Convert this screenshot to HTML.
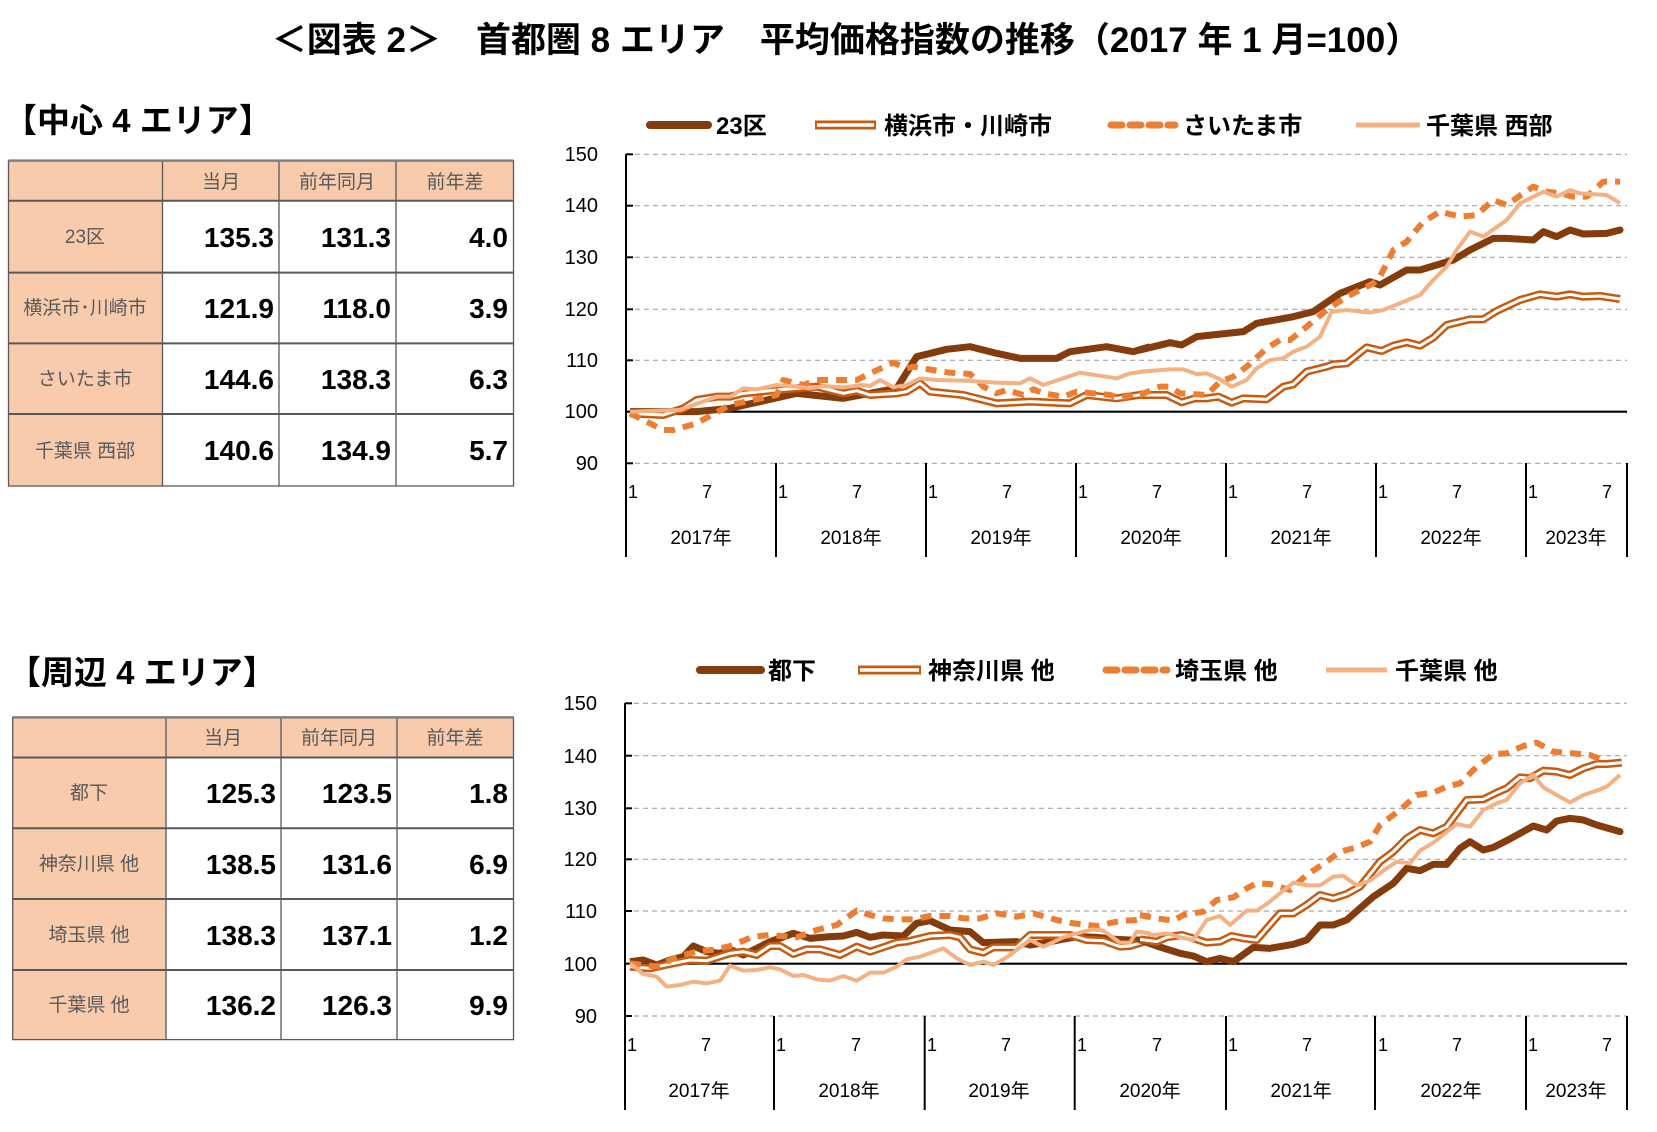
<!DOCTYPE html>
<html><head><meta charset="utf-8"><style>
html,body{margin:0;padding:0;background:#fff;}
svg{display:block;font-family:"Liberation Sans","Noto Sans CJK JP",sans-serif;}
.g{fill:#595959;font-size:19px;}
.n{font-size:28px;font-weight:bold;fill:#000;}
.yl{font-size:20px;fill:#000;}
.ml{font-size:18px;fill:#000;}
.yr{font-size:19px;fill:#000;}
.lg{font-size:24px;font-weight:bold;fill:#000;}
</style></head><body>
<svg width="1657" height="1132" viewBox="0 0 1657 1132" xmlns="http://www.w3.org/2000/svg">
<text x="846" y="52" text-anchor="middle" font-size="35" font-weight="bold">＜図表 2＞　首都圏 8 エリア　平均価格指数の推移（2017 年 1 月=100）</text>

<text x="4" y="132" font-size="33" font-weight="bold">【中心 4 エリア】</text>
<text x="8" y="684" font-size="33" font-weight="bold">【周辺 4 エリア】</text>

<!-- Table 1 -->
<g>
<rect x="8.5" y="160.6" width="154" height="325.4" fill="#F8CBAD"/>
<rect x="162.5" y="160.6" width="351" height="40" fill="#F8CBAD"/>
<g stroke="#595959" stroke-width="1.3" fill="none">
<rect x="8.5" y="160.6" width="505" height="325.4"/>
<line x1="162.5" y1="160.6" x2="162.5" y2="486"/>
<line x1="279" y1="160.6" x2="279" y2="486"/>
<line x1="396" y1="160.6" x2="396" y2="486"/>
<line x1="8.5" y1="200.7" x2="513.5" y2="200.7" stroke-width="2"/>
<line x1="8.5" y1="272.6" x2="513.5" y2="272.6" stroke-width="2"/>
<line x1="8.5" y1="343.4" x2="513.5" y2="343.4" stroke-width="2"/>
<line x1="8.5" y1="414" x2="513.5" y2="414" stroke-width="2"/>
</g>
<line x1="8.5" y1="160.6" x2="513.5" y2="160.6" stroke="#808080" stroke-width="2.5"/>
<text class="g" x="221" y="188" text-anchor="middle">当月</text>
<text class="g" x="337" y="188" text-anchor="middle">前年同月</text>
<text class="g" x="455" y="188" text-anchor="middle">前年差</text>
<text class="g" x="85" y="243" text-anchor="middle">23区</text>
<text class="g" x="85" y="314" text-anchor="middle">横浜市･川崎市</text>
<text class="g" x="85" y="385" text-anchor="middle">さいたま市</text>
<text class="g" x="85" y="457" text-anchor="middle">千葉県 西部</text>
<g class="n" text-anchor="end">
<text x="274" y="247">135.3</text><text x="391" y="247">131.3</text><text x="508" y="247">4.0</text>
<text x="274" y="318">121.9</text><text x="391" y="318">118.0</text><text x="508" y="318">3.9</text>
<text x="274" y="389">144.6</text><text x="391" y="389">138.3</text><text x="508" y="389">6.3</text>
<text x="274" y="460">140.6</text><text x="391" y="460">134.9</text><text x="508" y="460">5.7</text>
</g>
</g>

<!-- Table 2 -->
<g>
<rect x="12.7" y="717.4" width="153.3" height="322.2" fill="#F8CBAD"/>
<rect x="166" y="717.4" width="347.5" height="40" fill="#F8CBAD"/>
<g stroke="#595959" stroke-width="1.3" fill="none">
<rect x="12.7" y="717.4" width="500.8" height="322.2"/>
<line x1="166" y1="717.4" x2="166" y2="1039.6"/>
<line x1="281" y1="717.4" x2="281" y2="1039.6"/>
<line x1="397" y1="717.4" x2="397" y2="1039.6"/>
<line x1="12.7" y1="757.5" x2="513.5" y2="757.5" stroke-width="2"/>
<line x1="12.7" y1="828.3" x2="513.5" y2="828.3" stroke-width="2"/>
<line x1="12.7" y1="899" x2="513.5" y2="899" stroke-width="2"/>
<line x1="12.7" y1="970" x2="513.5" y2="970" stroke-width="2"/>
</g>
<line x1="12.7" y1="717.4" x2="513.5" y2="717.4" stroke="#808080" stroke-width="2.5"/>
<text class="g" x="223" y="744" text-anchor="middle">当月</text>
<text class="g" x="339" y="744" text-anchor="middle">前年同月</text>
<text class="g" x="455" y="744" text-anchor="middle">前年差</text>
<text class="g" x="89" y="799" text-anchor="middle">都下</text>
<text class="g" x="89" y="870" text-anchor="middle">神奈川県 他</text>
<text class="g" x="89" y="941" text-anchor="middle">埼玉県 他</text>
<text class="g" x="89" y="1011" text-anchor="middle">千葉県 他</text>
<g class="n" text-anchor="end">
<text x="276" y="803">125.3</text><text x="392" y="803">123.5</text><text x="508" y="803">1.8</text>
<text x="276" y="874">138.5</text><text x="392" y="874">131.6</text><text x="508" y="874">6.9</text>
<text x="276" y="945">138.3</text><text x="392" y="945">137.1</text><text x="508" y="945">1.2</text>
<text x="276" y="1015">136.2</text><text x="392" y="1015">126.3</text><text x="508" y="1015">9.9</text>
</g>
</g>

<!-- Legend 1 -->
<line x1="650" y1="125" x2="708" y2="125" stroke="#843C0C" stroke-width="8" stroke-linecap="round"/>
<text class="lg" x="716" y="134">23区</text>
<line x1="815" y1="125" x2="876" y2="125" stroke="#C55A11" stroke-width="9"/>
<line x1="817" y1="125" x2="874" y2="125" stroke="#fff" stroke-width="3.5"/>
<text class="lg" x="884" y="134">横浜市・川崎市</text>
<line x1="1111" y1="125" x2="1175" y2="125" stroke="#ED7D31" stroke-width="7" stroke-dasharray="11 8" stroke-linecap="round"/>
<text class="lg" x="1183" y="134">さいたま市</text>
<line x1="1356" y1="125" x2="1420" y2="125" stroke="#F4B183" stroke-width="5"/>
<text class="lg" x="1426" y="134">千葉県 西部</text>

<!-- Legend 2 -->
<line x1="700" y1="670" x2="761" y2="670" stroke="#843C0C" stroke-width="8" stroke-linecap="round"/>
<text class="lg" x="768" y="679">都下</text>
<line x1="858" y1="670" x2="921" y2="670" stroke="#C55A11" stroke-width="9"/>
<line x1="860" y1="670" x2="919" y2="670" stroke="#fff" stroke-width="3.5"/>
<text class="lg" x="928" y="679">神奈川県 他</text>
<line x1="1106" y1="670" x2="1167" y2="670" stroke="#ED7D31" stroke-width="7" stroke-dasharray="11 8" stroke-linecap="round"/>
<text class="lg" x="1175" y="679">埼玉県 他</text>
<line x1="1326" y1="670" x2="1387" y2="670" stroke="#F4B183" stroke-width="5"/>
<text class="lg" x="1395" y="679">千葉県 他</text>

<!-- Chart 1 axes -->
<g stroke="#a6a6a6" stroke-width="1.2" stroke-dasharray="5 4">
<line x1="626" y1="154.3" x2="1627" y2="154.3"/>
<line x1="626" y1="205.7" x2="1627" y2="205.7"/>
<line x1="626" y1="257.3" x2="1627" y2="257.3"/>
<line x1="626" y1="309.3" x2="1627" y2="309.3"/>
<line x1="626" y1="360.3" x2="1627" y2="360.3"/>
<line x1="626" y1="463.3" x2="1627" y2="463.3"/>
</g>
<g stroke="#000" stroke-width="2">
<line x1="626" y1="154" x2="626" y2="557"/>
<line x1="626" y1="154.3" x2="633" y2="154.3"/><line x1="626" y1="205.7" x2="633" y2="205.7"/>
<line x1="626" y1="257.3" x2="633" y2="257.3"/><line x1="626" y1="309.3" x2="633" y2="309.3"/>
<line x1="626" y1="360.3" x2="633" y2="360.3"/><line x1="626" y1="463.3" x2="633" y2="463.3"/>
<line x1="776" y1="463" x2="776" y2="557"/><line x1="926" y1="463" x2="926" y2="557"/>
<line x1="1076" y1="463" x2="1076" y2="557"/><line x1="1226" y1="463" x2="1226" y2="557"/>
<line x1="1376" y1="463" x2="1376" y2="557"/><line x1="1526" y1="463" x2="1526" y2="557"/>
<line x1="1627" y1="463" x2="1627" y2="557"/>
</g>
<line x1="626" y1="411.7" x2="1627" y2="411.7" stroke="#000" stroke-width="2.2"/>
<g class="yl" text-anchor="end">
<text x="598" y="161">150</text><text x="598" y="212">140</text><text x="598" y="264">130</text>
<text x="598" y="316">120</text><text x="598" y="367">110</text><text x="598" y="418">100</text><text x="598" y="470">90</text>
</g>
<g class="ml">
<text x="628" y="498">1</text><text x="702" y="498">7</text>
<text x="778" y="498">1</text><text x="852" y="498">7</text>
<text x="928" y="498">1</text><text x="1002" y="498">7</text>
<text x="1078" y="498">1</text><text x="1152" y="498">7</text>
<text x="1228" y="498">1</text><text x="1302" y="498">7</text>
<text x="1378" y="498">1</text><text x="1452" y="498">7</text>
<text x="1528" y="498">1</text><text x="1602" y="498">7</text>
</g>
<g class="yr" text-anchor="middle">
<text x="701" y="544">2017年</text><text x="851" y="544">2018年</text><text x="1001" y="544">2019年</text>
<text x="1151" y="544">2020年</text><text x="1301" y="544">2021年</text><text x="1451" y="544">2022年</text><text x="1576" y="544">2023年</text>
</g>

<!-- Chart 1 series -->
<g fill="none" stroke-linejoin="round">
<g transform="translate(630,150) scale(0.333333)">
<polyline vector-effect="non-scaling-stroke" stroke="#843C0C" stroke-width="7" points="0,785 200,785 300,775 500,730 640,745 800,715 860,620 950,598 1020,590 1100,610 1170,625 1280,625 1320,605 1430,590 1510,605 1560,590"/>
<polyline vector-effect="non-scaling-stroke" stroke="#C55A11" stroke-width="8" points="0,790 100,795 160,775 200,750 260,740 300,740 340,730 440,720 500,715 560,710 640,730 680,722 720,735 800,730 830,725 870,700 900,725 1000,735 1100,760 1200,755 1320,760 1370,735 1460,745 1560,730"/>
<polyline vector-effect="non-scaling-stroke" stroke="#fff" stroke-width="3" points="0,790 100,795 160,775 200,750 260,740 300,740 340,730 440,720 500,715 560,710 640,730 680,722 720,735 800,730 830,725 870,700 900,725 1000,735 1100,760 1200,755 1320,760 1370,735 1460,745 1560,730"/>
<polyline vector-effect="non-scaling-stroke" stroke="#ED7D31" stroke-width="6" stroke-dasharray="11 8" points="0,790 100,840 130,840 200,820 300,765 440,735 460,690 520,705 560,690 640,690 680,690 720,670 790,638 830,655 850,650 920,662 960,668 1020,672 1060,710 1100,730 1130,720 1180,735 1210,718 1240,730 1300,740 1340,725 1440,735 1470,745 1530,728"/>
<polyline vector-effect="non-scaling-stroke" stroke="#F4B183" stroke-width="4" points="0,785 150,780 260,740 300,740 340,715 380,718 440,705 500,710 540,715 580,708 640,712 700,705 720,708 750,690 790,712 830,705 870,685 920,690 1000,692 1100,698 1170,700 1200,685 1240,705 1350,668 1460,685 1500,670 1560,662"/>
</g>
<g transform="translate(1140,150) scale(0.333333)">
<polyline vector-effect="non-scaling-stroke" stroke="#843C0C" stroke-width="7" stroke-linecap="round" points="0,600 90,578 125,585 170,560 310,545 350,520 460,500 520,485 600,430 690,395 720,405 800,360 840,360 940,330 990,300 1060,265 1100,265 1180,270 1210,245 1250,260 1290,240 1330,252 1400,250 1440,240"/>
<polyline vector-effect="non-scaling-stroke" stroke="#C55A11" stroke-width="8" points="0,735 80,735 125,757 165,745 200,745 235,740 275,758 310,745 380,748 430,710 460,703 500,665 560,650 580,643 620,640 680,592 725,603 760,587 800,577 840,587 880,563 920,525 990,508 1030,508 1070,483 1140,450 1200,433 1250,440 1290,433 1330,440 1380,438 1440,447"/>
<polyline vector-effect="non-scaling-stroke" stroke="#fff" stroke-width="3" points="0,735 80,735 125,757 165,745 200,745 235,740 275,758 310,745 380,748 430,710 460,703 500,665 560,650 580,643 620,640 680,592 725,603 760,587 800,577 840,587 880,563 920,525 990,508 1030,508 1070,483 1140,450 1200,433 1250,440 1290,433 1330,440 1380,438 1440,447"/>
<polyline vector-effect="non-scaling-stroke" stroke="#ED7D31" stroke-width="6" stroke-dasharray="11 8" points="0,735 60,710 90,710 120,730 200,735 240,695 280,680 320,650 380,595 420,570 450,570 500,530 560,480 620,440 700,400 720,380 760,300 800,275 850,215 900,185 960,200 1010,195 1060,150 1100,165 1150,130 1180,110 1220,125 1260,130 1300,140 1340,140 1390,95 1440,95"/>
<polyline vector-effect="non-scaling-stroke" stroke="#F4B183" stroke-width="4" points="0,665 90,658 130,658 170,672 200,670 240,688 275,710 320,690 350,655 390,630 430,625 460,605 500,590 540,560 575,485 620,480 690,488 730,480 840,435 880,390 920,350 950,300 990,245 1030,260 1100,210 1140,160 1210,125 1250,140 1290,120 1320,130 1400,135 1440,160"/>
</g>
</g>

<!-- Chart 2 axes -->
<g stroke="#a6a6a6" stroke-width="1.2" stroke-dasharray="5 4">
<line x1="625" y1="703.3" x2="1627" y2="703.3"/>
<line x1="625" y1="755.7" x2="1627" y2="755.7"/>
<line x1="625" y1="808.3" x2="1627" y2="808.3"/>
<line x1="625" y1="859.3" x2="1627" y2="859.3"/>
<line x1="625" y1="911" x2="1627" y2="911"/>
<line x1="625" y1="1016" x2="1627" y2="1016"/>
</g>
<g stroke="#000" stroke-width="2">
<line x1="625" y1="703" x2="625" y2="1110"/>
<line x1="625" y1="703.3" x2="632" y2="703.3"/><line x1="625" y1="755.7" x2="632" y2="755.7"/>
<line x1="625" y1="808.3" x2="632" y2="808.3"/><line x1="625" y1="859.3" x2="632" y2="859.3"/>
<line x1="625" y1="911" x2="632" y2="911"/><line x1="625" y1="1016" x2="632" y2="1016"/>
<line x1="774" y1="1016" x2="774" y2="1110"/><line x1="924.7" y1="1016" x2="924.7" y2="1110"/>
<line x1="1074.7" y1="1016" x2="1074.7" y2="1110"/><line x1="1226" y1="1016" x2="1226" y2="1110"/>
<line x1="1375" y1="1016" x2="1375" y2="1110"/><line x1="1526" y1="1016" x2="1526" y2="1110"/>
<line x1="1627" y1="1016" x2="1627" y2="1110"/>
</g>
<line x1="625" y1="963.7" x2="1627" y2="963.7" stroke="#000" stroke-width="2.2"/>
<g class="yl" text-anchor="end">
<text x="597" y="710">150</text><text x="597" y="763">140</text><text x="597" y="815">130</text>
<text x="597" y="866">120</text><text x="597" y="918">110</text><text x="597" y="971">100</text><text x="597" y="1023">90</text>
</g>
<g class="ml">
<text x="627" y="1051">1</text><text x="701" y="1051">7</text>
<text x="776" y="1051">1</text><text x="851" y="1051">7</text>
<text x="927" y="1051">1</text><text x="1001" y="1051">7</text>
<text x="1077" y="1051">1</text><text x="1152" y="1051">7</text>
<text x="1228" y="1051">1</text><text x="1302" y="1051">7</text>
<text x="1378" y="1051">1</text><text x="1452" y="1051">7</text>
<text x="1528" y="1051">1</text><text x="1602" y="1051">7</text>
</g>
<g class="yr" text-anchor="middle">
<text x="699" y="1097">2017年</text><text x="849" y="1097">2018年</text><text x="999" y="1097">2019年</text>
<text x="1150" y="1097">2020年</text><text x="1301" y="1097">2021年</text><text x="1451" y="1097">2022年</text><text x="1576" y="1097">2023年</text>
</g>

<!-- Chart 2 series -->
<g fill="none" stroke-linejoin="round">
<g transform="translate(630,700) scale(0.333333)">
<polyline vector-effect="non-scaling-stroke" stroke="#843C0C" stroke-width="7" points="0,785 40,780 80,795 120,780 160,770 190,738 230,755 270,760 300,748 340,765 380,745 420,725 490,700 540,715 600,710 640,708 680,697 720,712 760,705 820,708 860,670 900,662 960,690 1020,695 1060,728 1160,725 1200,735 1260,725 1340,710 1400,712 1460,718 1500,720 1560,720"/>
<polyline vector-effect="non-scaling-stroke" stroke="#C55A11" stroke-width="8" points="0,800 60,805 120,792 180,780 230,782 300,760 340,755 380,765 420,738 450,738 490,762 530,748 570,748 630,765 680,740 720,755 800,728 830,725 900,708 960,705 990,712 1020,748 1060,758 1090,742 1160,742 1200,705 1250,705 1320,705 1370,720 1420,722 1470,740 1500,738 1560,720"/>
<polyline vector-effect="non-scaling-stroke" stroke="#fff" stroke-width="3" points="0,800 60,805 120,792 180,780 230,782 300,760 340,755 380,765 420,738 450,738 490,762 530,748 570,748 630,765 680,740 720,755 800,728 830,725 900,708 960,705 990,712 1020,748 1060,758 1090,742 1160,742 1200,705 1250,705 1320,705 1370,720 1420,722 1470,740 1500,738 1560,720"/>
<polyline vector-effect="non-scaling-stroke" stroke="#ED7D31" stroke-width="6" stroke-dasharray="11 8" points="0,790 80,800 120,780 160,765 200,755 260,748 300,738 370,710 420,705 500,712 560,690 620,675 680,632 720,645 760,655 800,658 850,658 900,648 960,648 1000,655 1050,655 1100,640 1160,650 1210,640 1280,660 1330,670 1400,678 1470,663 1520,660 1560,645"/>
<polyline vector-effect="non-scaling-stroke" stroke="#F4B183" stroke-width="4" points="0,790 40,822 80,830 110,860 150,855 190,845 230,850 270,842 300,797 340,812 380,810 420,802 450,808 490,828 520,825 560,838 600,842 640,828 680,842 720,818 760,818 800,800 830,778 870,770 940,745 980,775 1020,795 1060,785 1090,795 1130,772 1200,720 1240,740 1300,712 1340,700 1390,688 1420,692 1470,728 1500,728 1520,695 1560,700"/>
</g>
<g transform="translate(1140,700) scale(0.333333)">
<polyline vector-effect="non-scaling-stroke" stroke="#843C0C" stroke-width="7" stroke-linecap="round" points="0,720 50,738 120,760 160,768 200,785 240,775 280,785 340,742 390,745 460,733 500,720 540,675 580,675 620,660 700,590 760,550 800,505 840,512 880,493 920,493 960,445 990,425 1030,450 1060,442 1100,422 1180,378 1220,390 1250,363 1290,355 1330,360 1370,375 1440,395"/>
<polyline vector-effect="non-scaling-stroke" stroke="#C55A11" stroke-width="8" points="0,718 50,725 80,712 125,705 160,715 200,728 240,725 275,708 310,715 350,720 420,640 460,640 500,615 540,585 580,595 620,582 660,560 720,485 760,455 800,415 840,390 880,400 920,380 980,300 1030,298 1070,278 1100,265 1140,232 1170,235 1210,212 1250,215 1290,225 1330,205 1370,192 1400,192 1445,188"/>
<polyline vector-effect="non-scaling-stroke" stroke="#fff" stroke-width="3" points="0,718 50,725 80,712 125,705 160,715 200,728 240,725 275,708 310,715 350,720 420,640 460,640 500,615 540,585 580,595 620,582 660,560 720,485 760,455 800,415 840,390 880,400 920,380 980,300 1030,298 1070,278 1100,265 1140,232 1170,235 1210,212 1250,215 1290,225 1330,205 1370,192 1400,192 1445,188"/>
<polyline vector-effect="non-scaling-stroke" stroke="#ED7D31" stroke-width="6" stroke-dasharray="11 8" points="0,645 50,655 100,662 130,645 190,635 230,600 280,592 320,565 350,550 390,552 450,570 500,525 560,485 600,455 650,442 690,425 720,375 780,330 830,285 880,278 920,260 960,250 1000,210 1060,162 1100,160 1150,138 1190,128 1240,155 1300,160 1350,165 1400,185"/>
<polyline vector-effect="non-scaling-stroke" stroke="#F4B183" stroke-width="4" points="0,695 40,705 80,700 120,712 160,720 200,660 240,648 270,675 320,632 350,632 380,612 420,580 460,548 500,556 540,556 580,530 610,528 650,556 690,542 730,512 770,485 810,490 840,452 880,428 950,372 990,380 1030,330 1070,310 1100,300 1140,250 1180,225 1210,262 1250,285 1290,307 1330,285 1370,272 1400,260 1440,225"/>
</g>
</g>
</svg>
</body></html>
